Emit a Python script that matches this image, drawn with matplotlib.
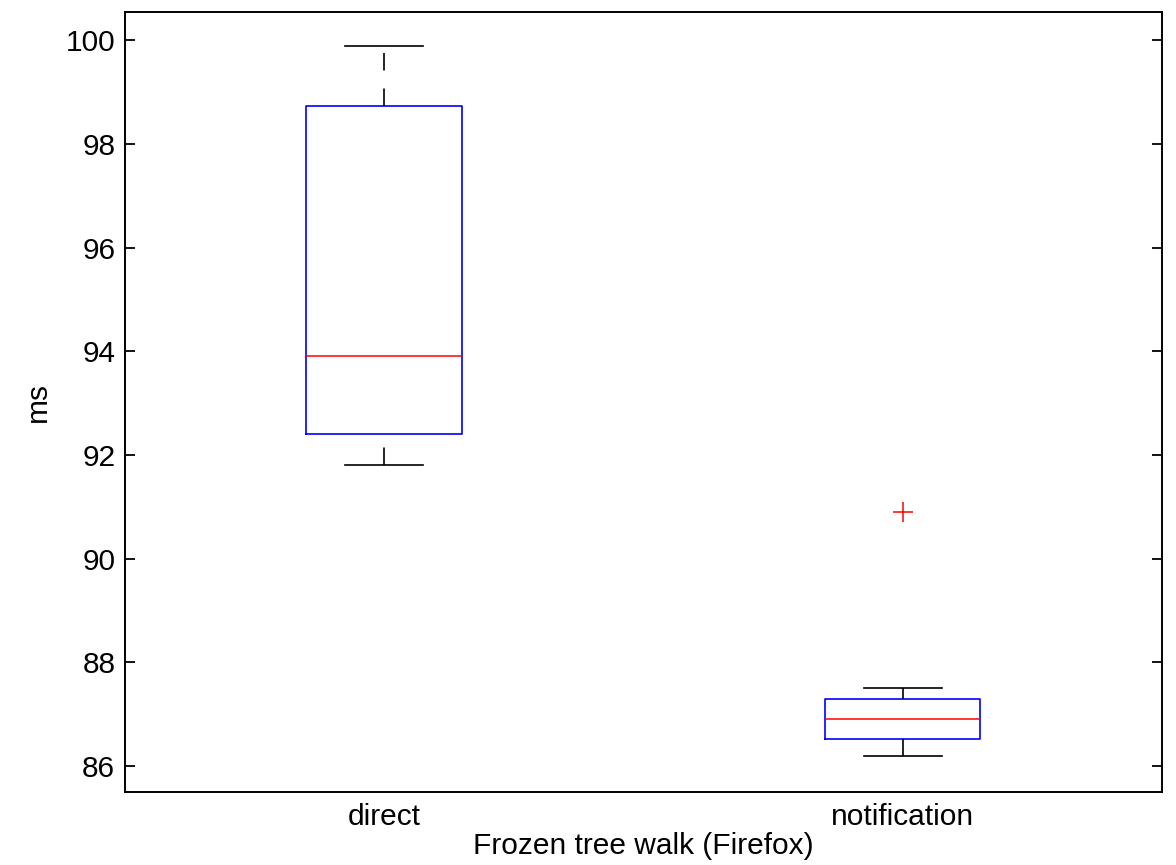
import matplotlib
matplotlib.use("Agg")
import matplotlib.pyplot as plt

plt.rcParams['font.family'] = ['Liberation Sans', 'DejaVu Sans']

categories = ["direct", "notification"]
whislo = [91.80, 86.19]
q1 = [92.40, 86.52]
med = [93.91, 86.91]
q3 = [98.73, 87.29]
whishi = [99.88, 87.50]
outliers = [[], [90.90]]

stats = []
for i, c in enumerate(categories):
    stats.append(dict(label=c, whislo=whislo[i], q1=q1[i], med=med[i],
                      q3=q3[i], whishi=whishi[i], fliers=outliers[i]))

fig = plt.figure(figsize=(11.76, 8.65), dpi=100)
ax = fig.add_axes([0.1063, 0.0844, 0.988 - 0.1063, 0.986 - 0.0844])

res = ax.bxp(stats, positions=[1, 2], widths=0.3, capwidths=0.15,
             boxprops=dict(color='blue', linewidth=1.2),
             medianprops=dict(color='red', linewidth=1.1),
             whiskerprops=dict(color='black', linewidth=1.2,
                               linestyle=(0, (10.5, 10.8))),
             capprops=dict(color='black', linewidth=1.2),
             flierprops=dict(marker='+', markeredgecolor='red',
                             markersize=14, markeredgewidth=1.1,
                             linestyle='none'))

# draw whiskers from low value to high value (MATLAB style dash phase)
for ln in res['whiskers']:
    x, y = ln.get_data()
    if y[0] > y[1]:
        ln.set_data(list(x)[::-1], list(y)[::-1])

ax.set_xlim(0.5, 2.5)
ax.set_ylim(85.5, 100.54)
ax.set_yticks([86, 88, 90, 92, 94, 96, 98, 100])
ax.set_xticks([1, 2])
ax.set_xticklabels(categories)
ax.tick_params(axis='y', direction='in', length=7, width=1.3, right=True,
               labelsize=21.5, pad=7)
ax.tick_params(axis='x', length=0, labelsize=21.5, pad=8)
for s in ax.spines.values():
    s.set_linewidth(1.4)

ax.set_ylabel("ms", fontsize=21.5, labelpad=10)
ax.set_xlabel("Frozen tree walk (Firefox)", fontsize=21.5, labelpad=1)

fig.savefig("out.png", dpi=100)
